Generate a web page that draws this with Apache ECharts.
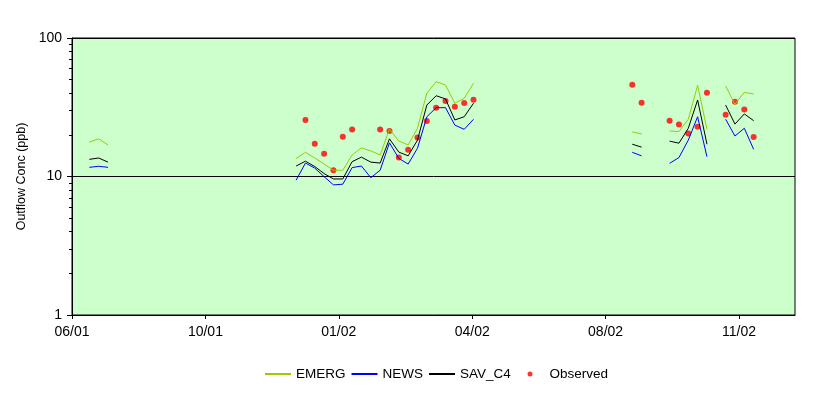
<!DOCTYPE html>
<html><head><meta charset="utf-8">
<script src="https://cdn.jsdelivr.net/npm/echarts@6/dist/echarts.min.js"></script>
<style>html,body{margin:0;padding:0;background:#fff}#c{width:829px;height:396px}</style>
</head><body><div id="c"></div>
<script>
// x positions are days since the first axis tick (06/01); ticks every 100 days
const tickLabels = ['06/01','10/01','01/02','04/02','08/02','11/02'];
const tickDays = [0,100,200,300,400,500];
// model output days; null values break the lines
const modelDays = [13,20,27,34, 168,175,182,189,196,203,210,217,224,231,238,245,252,259,266,273,280,287,294,301,308, 420,427,434, 448,455,462,469,476,483, 490,497,504,511];
const emerg = [17.7,18.7,16.9,null, 13.5,14.95,13.6,12.3,11.1,11.1,14.3,16.1,15.3,14.3,22.0,18.0,16.9,22.3,39.9,48.4,45.8,33.8,36.7,47.1,null, 21.0,20.3,null, 21.3,21.1,25.9,45.5,21.9,null, 45.0,33.2,40.5,39.4];
const news = [11.65,11.85,11.65,null, 9.4,12.5,11.5,9.97,8.7,8.8,11.6,11.9,9.8,11.1,17.5,13.5,12.3,16.0,27.0,31.4,31.4,23.5,21.9,25.9,null, 14.95,14.1,null, 12.45,13.7,18.3,27.0,13.9,null, 25.9,19.6,22.3,15.7];
const savc4 = [13.3,13.6,12.7,null, 11.9,12.9,11.8,10.5,9.6,9.6,12.8,13.8,12.7,12.5,18.7,15.0,14.1,18.3,32.8,38.3,36.3,25.6,27.0,33.8,null, 17.1,16.3,null, 18.0,17.4,22.3,35.7,17.1,null, 32.8,23.9,28.3,25.3];
const obsDays = [175,182,189,196,203,210,231,238,245,252,259,266,273,280,287,294,301, 420,427,448,455,462,469,476,490,497,504,511];
const observed = [25.6,17.25,14.6,11.1,19.4,21.8,21.8,21.3,13.7,15.6,19.1,25.2,31.4,35.1,31.9,33.9,35.8, 46.0,34.1,25.3,23.7,20.4,22.9,40.3,27.9,34.7,30.4,19.3];
const yTicks = [1,10,100];

const pair = (xs, ys) => xs.map((x, i) => [x, ys[i]]);
const font = 'Arial, "Liberation Sans", sans-serif';
const legendText = {fontFamily: font, fontSize: 13.5, color: '#000'};
const chart = echarts.init(document.getElementById('c'), null, {renderer: 'canvas'});
chart.setOption({
  animation: false,
  backgroundColor: '#ffffff',
  grid: {left: 72, right: 34, top: 38, bottom: 81, show: true, backgroundColor: '#CCFFCC', borderColor: '#000', borderWidth: 1},
  legend: [{
    left: 264, top: 367, padding: 0, itemWidth: 26, itemHeight: 4, itemGap: 5,
    textStyle: legendText,
    data: [{name: 'EMERG', itemStyle: {opacity: 0}}, {name: 'NEWS', itemStyle: {opacity: 0}}, {name: 'SAV_C4', itemStyle: {opacity: 0}}]
  }, {
    left: 527.5, top: 367, padding: 0, itemWidth: 5, itemHeight: 5,
    textStyle: Object.assign({padding: [0, 0, 0, 12]}, legendText),
    data: [{name: 'Observed', icon: 'circle'}]
  }],
  xAxis: {
    type: 'value', min: 0, max: 542, interval: 100,
    axisLine: {show: true, lineStyle: {color: '#000', width: 1}},
    axisTick: {show: true, length: 4, customValues: tickDays, lineStyle: {color: '#000'}},
    axisLabel: {customValues: tickDays, margin: 10, fontFamily: font, fontSize: 14, color: '#000',
      formatter: v => tickLabels[tickDays.indexOf(Math.round(v))] || ''},
    splitLine: {show: false}
  },
  yAxis: {
    type: 'log', logBase: 10, min: 1, max: 100,
    name: 'Outflow Conc (ppb)', nameLocation: 'middle', nameGap: 41,
    nameTextStyle: {fontFamily: font, fontSize: 12.5, color: '#000'},
    axisLine: {show: true, lineStyle: {color: '#000', width: 1}},
    axisTick: {show: true, length: 5, lineStyle: {color: '#000'}},
    minorTick: {show: true, splitNumber: 9, length: 3, lineStyle: {color: '#000'}},
    axisLabel: {margin: 10, fontFamily: font, fontSize: 14, color: '#000',
      formatter: v => String(yTicks.find(t => Math.abs(t - v) < 1e-6 * t) ?? '')},
    splitLine: {show: true, lineStyle: {color: '#000', width: 1}}
  },
  series: [
    {name: 'EMERG', type: 'line', data: pair(modelDays, emerg), showSymbol: false, symbol: 'none', connectNulls: false,
     color: '#99CC00', lineStyle: {color: '#99CC00', width: 1}},
    {name: 'NEWS', type: 'line', data: pair(modelDays, news), showSymbol: false, symbol: 'none', connectNulls: false,
     color: '#0000FF', lineStyle: {color: '#0000FF', width: 1}},
    {name: 'SAV_C4', type: 'line', data: pair(modelDays, savc4), showSymbol: false, symbol: 'none', connectNulls: false,
     color: '#000000', lineStyle: {color: '#000000', width: 1}},
    {name: 'Observed', type: 'scatter', data: pair(obsDays, observed), symbol: 'circle', symbolSize: 6,
     itemStyle: {color: '#FF0000'}}
  ]
});
</script>
</body></html>
